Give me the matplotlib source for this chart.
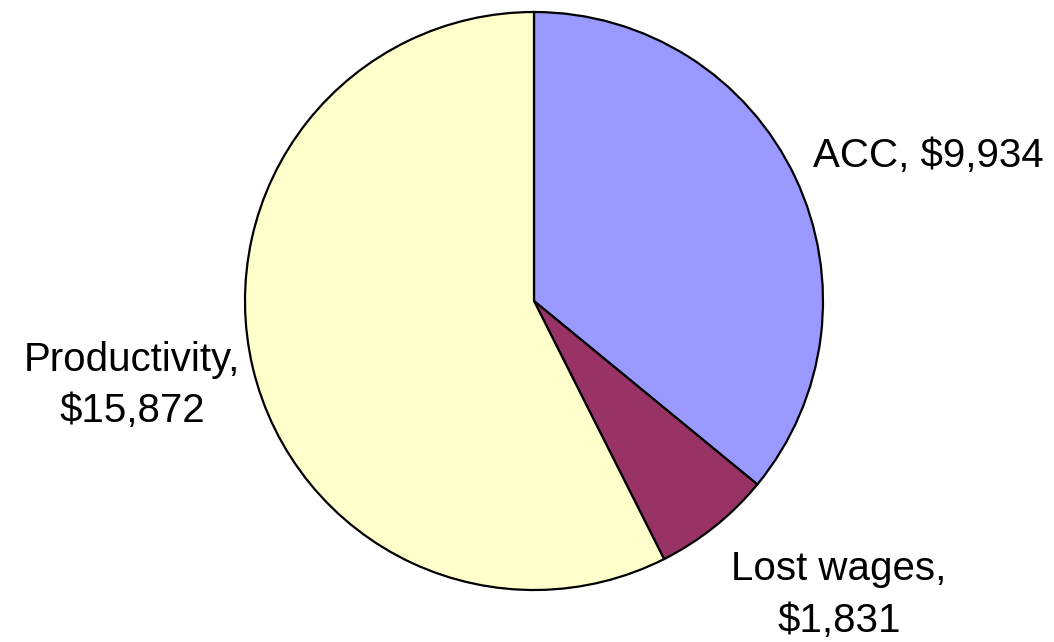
import matplotlib
matplotlib.use('Agg')
import matplotlib.pyplot as plt

labels = ['ACC', 'Lost wages', 'Productivity']
values = [9934, 1831, 15872]
colors = ['#9999FF', '#993366', '#FFFFCC']

plt.rcParams['font.family'] = ['Liberation Sans', 'DejaVu Sans']

fig = plt.figure(figsize=(10.54, 6.42), dpi=100)
# axes placed so the pie sits where it does in the original
ax = fig.add_axes([245 / 1054, 52 / 642, 578 / 1054, 578 / 642])
ax.pie(values, colors=colors, startangle=90, counterclock=False,
       wedgeprops={'edgecolor': 'black', 'linewidth': 1.6})
ax.set_xlim(-1, 1)
ax.set_ylim(-1, 1)
ax.set_aspect('equal')

def money(v):
    return '${:,}'.format(v)

fs = 29
ax.text(0.965, 0.464, labels[0] + ', ' + money(values[0]), fontsize=fs,
        ha='left', va='baseline', clip_on=False)
# baseline here is the last line's baseline
ax.text(1.055, -1.145, labels[1] + ',\n' + money(values[1]), fontsize=fs,
        ha='center', va='baseline', multialignment='center',
        linespacing=1.45, clip_on=False)
ax.text(-1.39, -0.419, labels[2] + ',\n' + money(values[2]), fontsize=fs,
        ha='center', va='baseline', multialignment='center',
        linespacing=1.45, clip_on=False)

fig.savefig('out.png', dpi=100)
